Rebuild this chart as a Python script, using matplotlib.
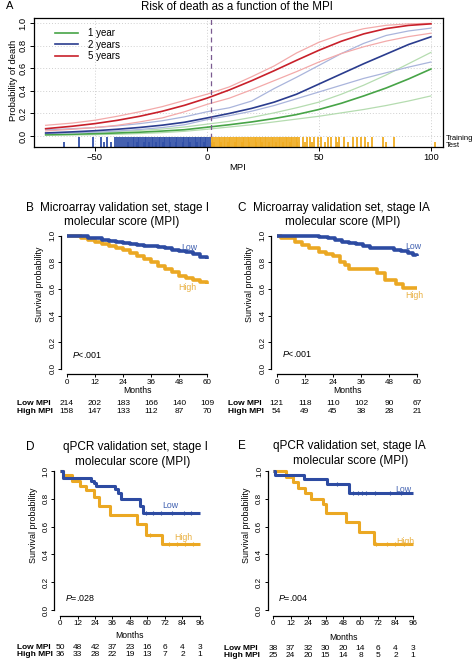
import matplotlib
matplotlib.use('Agg')
import matplotlib.pyplot as plt
import matplotlib.transforms as mtrans
import numpy as np

plt.rcParams['font.family'] = ['Liberation Sans', 'DejaVu Sans']
plt.rcParams['mathtext.fontset'] = 'custom'
plt.rcParams['mathtext.it'] = 'Liberation Sans:italic'
plt.rcParams['mathtext.rm'] = 'Liberation Sans'

W, H = 474, 663

# ---------------- Panel A data ----------------
mpi_grid = [-72, -60, -50, -40, -30, -20, -10, 0, 10, 20, 30, 40, 50, 60, 70, 80, 90, 100]
p5 = [0.065, 0.087, 0.110, 0.139, 0.175, 0.219, 0.272, 0.335, 0.408, 0.490, 0.578, 0.670, 0.759, 0.839, 0.904, 0.951, 0.979, 0.993]
p5_hi = [0.095, 0.115, 0.140, 0.175, 0.215, 0.260, 0.315, 0.370, 0.435, 0.525, 0.620, 0.735, 0.830, 0.900, 0.950, 0.980, 0.993, 0.997]
p5_lo = [0.045, 0.060, 0.075, 0.095, 0.125, 0.160, 0.215, 0.280, 0.335, 0.410, 0.490, 0.570, 0.655, 0.730, 0.790, 0.840, 0.880, 0.910]
p2 = [0.027, 0.037, 0.047, 0.060, 0.076, 0.096, 0.122, 0.160, 0.200, 0.245, 0.300, 0.370, 0.460, 0.550, 0.640, 0.725, 0.810, 0.878]
p2_hi = [0.055, 0.065, 0.075, 0.090, 0.110, 0.135, 0.170, 0.215, 0.250, 0.310, 0.420, 0.520, 0.625, 0.730, 0.820, 0.890, 0.930, 0.955]
p2_lo = [0.022, 0.028, 0.034, 0.045, 0.058, 0.075, 0.100, 0.145, 0.180, 0.220, 0.270, 0.330, 0.390, 0.450, 0.510, 0.560, 0.610, 0.655]
p1 = [0.012, 0.016, 0.021, 0.027, 0.034, 0.044, 0.056, 0.078, 0.100, 0.125, 0.155, 0.190, 0.235, 0.290, 0.355, 0.425, 0.505, 0.593]
p1_hi = [0.025, 0.028, 0.032, 0.040, 0.050, 0.062, 0.080, 0.105, 0.130, 0.165, 0.205, 0.250, 0.300, 0.370, 0.450, 0.540, 0.640, 0.740]
p1_lo = [0.006, 0.009, 0.012, 0.016, 0.022, 0.030, 0.042, 0.060, 0.080, 0.100, 0.125, 0.150, 0.175, 0.205, 0.235, 0.270, 0.310, 0.355]
mpi_cutoff = 2

rug_train = [-57, -51, -47.5, -44.5, -41, -40.2, -39.1, -38.3, -37.4, -36.6, -35.5, -34.8, -33.9,
             -33.1, -32.4, -31.6, -30.8, -30.1, -29.3, -28.5, -27.8, -27.0, -26.2, -25.5, -24.7,
             -23.9, -23.2, -22.4, -21.6, -20.9, -20.1, -19.3, -18.6, -17.8, -17.0, -16.3, -15.5,
             -14.7, -14.0, -13.2, -12.4, -11.7, -10.9, -10.1, -9.4, -8.6, -7.8, -7.1, -6.3, -5.5,
             -4.8, -4.0, -3.2, -2.5, -1.7, -0.9, -0.2, 0.6, 1.3,
             2.1, 2.9, 3.6, 4.4, 5.2, 5.9, 6.7, 7.5, 8.2, 9.0, 9.8, 10.5, 11.3, 12.1, 12.8, 13.6,
             14.4, 15.1, 15.9, 16.7, 17.4, 18.2, 19.0, 19.7, 20.5, 21.3, 22.0, 22.8, 23.6, 24.3,
             25.1, 25.9, 26.6, 27.4, 28.2, 28.9, 29.7, 30.5, 31.2, 32.0, 32.8, 33.5, 34.3, 35.1,
             35.8, 36.6, 37.4, 38.1, 38.9, 39.7, 40.4, 41.2, 43, 44.5, 46, 48, 49.5, 51, 54,
             55.5, 57.5, 59, 61, 65, 67, 69, 70.5, 73.5, 78.6, 83.6]
rug_test = [-64, -46, -43, -35.2, -31.2, -28.1, -25.9, -22.8, -19.7, -16.6, -13.6, -10.5, -7.4,
            -4.4, -1.3, 3.2, 6.3, 9.4, 12.5, 15.5, 18.6, 21.7, 24.7, 27.8, 30.9, 33.9, 37.0,
            40.1, 44, 47, 52.5, 58, 63, 72, 80, 102]

# ---------------- KM data ----------------
B_low_t = [0, 3, 6, 9, 12, 15, 18, 21, 24, 27, 30, 33, 36, 39, 42, 45, 48, 51, 54, 57, 60]
B_low_s = [1.0, 0.997, 0.993, 0.985, 0.978, 0.970, 0.960, 0.950, 0.945, 0.940, 0.930, 0.925,
           0.920, 0.915, 0.905, 0.895, 0.885, 0.875, 0.860, 0.840, 0.825]
B_high_t = [0, 3, 6, 9, 12, 15, 18, 21, 24, 27, 30, 33, 36, 39, 42, 45, 48, 51, 54, 57, 60]
B_high_s = [1.0, 0.993, 0.980, 0.965, 0.950, 0.935, 0.920, 0.905, 0.888, 0.870, 0.850, 0.825,
            0.800, 0.770, 0.750, 0.725, 0.700, 0.680, 0.670, 0.655, 0.640]
C_low_t = [0, 14, 18, 22, 25, 28, 31, 34, 37, 40, 47, 50, 53, 56, 58, 60]
C_low_s = [1.0, 0.995, 0.990, 0.980, 0.965, 0.955, 0.945, 0.935, 0.925, 0.910, 0.905, 0.895,
           0.885, 0.870, 0.855, 0.845]
C_high_t = [0, 2, 8, 11, 14, 18, 21, 24, 27, 29, 31, 43, 46, 51, 54, 60]
C_high_s = [1.0, 0.98, 0.955, 0.93, 0.91, 0.88, 0.865, 0.85, 0.80, 0.78, 0.75, 0.72, 0.665,
            0.64, 0.61, 0.61]
D_low_t = [0, 2, 21, 23, 25, 38, 40, 42, 55, 57, 96]
D_low_s = [1.0, 0.95, 0.93, 0.91, 0.89, 0.87, 0.84, 0.80, 0.75, 0.70, 0.70]
D_high_t = [0, 2, 8, 14, 18, 23, 27, 34, 53, 59, 70, 96]
D_high_s = [1.0, 0.97, 0.93, 0.89, 0.86, 0.81, 0.75, 0.68, 0.62, 0.54, 0.475, 0.475]
E_low_t = [0, 1, 21, 37, 52, 96]
E_low_s = [1.0, 0.97, 0.94, 0.905, 0.845, 0.845]
E_high_t = [0, 9, 14, 17, 22, 26, 34, 36, 50, 59, 69, 96]
E_high_s = [1.0, 0.96, 0.92, 0.88, 0.84, 0.80, 0.76, 0.70, 0.63, 0.56, 0.475, 0.475]
D_low_cens = [59, 64, 69, 77, 85, 90]
D_high_cens = [62, 75, 80, 86, 91]
E_low_cens = [44, 55, 58, 61, 64, 70, 80, 88]
E_high_cens = [71, 78, 84, 90]

B_ticks = [0, 12, 24, 36, 48, 60]
D_ticks = [0, 12, 24, 36, 48, 60, 72, 84, 96]
B_risk_low = [214, 202, 183, 166, 140, 109]
B_risk_high = [158, 147, 133, 112, 87, 70]
C_risk_low = [121, 118, 110, 102, 90, 67]
C_risk_high = [54, 49, 45, 38, 28, 21]
D_risk_low = [50, 48, 42, 37, 23, 16, 6, 4, 3]
D_risk_high = [36, 33, 28, 22, 19, 13, 7, 2, 1]
E_risk_low = [38, 37, 32, 30, 20, 14, 6, 4, 3]
E_risk_high = [25, 24, 20, 15, 14, 8, 5, 2, 1]

# ---------------- colours ----------------
GREEN, GREEN_L = '#47a447', '#b5dcb0'
BLUEA, BLUEA_L = '#2a3c8e', '#aab5dc'
RED, RED_L = '#c8202a', '#f3aaaa'
KM_BLUE, KM_ORANGE = '#2d4ba2', '#eba823'
RUG_BLUE, RUG_ORANGE = '#3150a8', '#f0ad22'
LBL_BLUE, LBL_ORANGE = '#4060b0', '#e9b040'

fig = plt.figure(figsize=(W / 100, H / 100), dpi=100)


def px_axes(l, r, t, b):
    return fig.add_axes([l / W, 1 - b / H, (r - l) / W, (b - t) / H])


def ftext(x, y, s, **kw):
    kw.setdefault('va', 'center')
    fig.text(x / W, 1 - y / H, s, **kw)


# ================= Panel A =================
axA = px_axes(34, 443, 18.3, 147)
axA.set_xlim(-77.2, 105.4)
axA.set_ylim(-0.097, 1.042)
for v in [-50, 0, 50, 100]:
    axA.axvline(v, color='#d0d0d0', lw=0.7, ls=(0, (1, 2)), zorder=0)
for v in [0, 0.2, 0.4, 0.6, 0.8, 1.0]:
    axA.axhline(v, color='#d0d0d0', lw=0.7, ls=(0, (1, 2)), zorder=0)

for lo, hi, mid, c, cl in [(p1_lo, p1_hi, p1, GREEN, GREEN_L),
                           (p2_lo, p2_hi, p2, BLUEA, BLUEA_L),
                           (p5_lo, p5_hi, p5, RED, RED_L)]:
    axA.plot(mpi_grid, lo, color=cl, lw=0.9)
    axA.plot(mpi_grid, hi, color=cl, lw=0.9)
    axA.plot(mpi_grid, mid, color=c, lw=1.2)

axA.axvline(mpi_cutoff, color='#7a5a90', lw=0.9, ls=(0, (4, 3)))

rt = np.array(rug_train)
rs = np.array(rug_test)
axA.vlines(rt, -0.010, -0.097, colors=[RUG_BLUE if v < mpi_cutoff else RUG_ORANGE for v in rt], lw=1.3)
axA.vlines(rs, -0.050, -0.097, colors=[RUG_BLUE if v < mpi_cutoff else RUG_ORANGE for v in rs], lw=1.3)

axA.set_xticks([-50, 0, 50, 100])
axA.set_xticklabels(['\u221250', '0', '50', '100'])
axA.set_yticks([0, 0.2, 0.4, 0.6, 0.8, 1.0])
axA.set_yticklabels(['0.0', '0.2', '0.4', '0.6', '0.8', '1.0'], rotation=90, va='center')
axA.tick_params(labelsize=6.8, length=3, width=0.7, pad=1.5, direction='out')
for s in axA.spines.values():
    s.set_linewidth(0.9)

# legend (manual)
for yy, lab, c in [(33, '1 year', GREEN), (44.5, '2 years', BLUEA), (56, '5 years', RED)]:
    yd = (147 - yy) / (147 - 18.3)
    axA.plot([(55 - 34) / 409, (78 - 34) / 409], [yd, yd], color=c, lw=1.2, transform=axA.transAxes)
    axA.text((88 - 34) / 409, yd, lab, transform=axA.transAxes, fontsize=7, va='center')

ftext(237, 7, 'Risk of death as a function of the MPI', fontsize=8.3, ha='center')
ftext(10, 6, 'A', fontsize=8, ha='center')
ftext(13.5, 80, 'Probability of death', fontsize=6.8, rotation=90, ha='center')
ftext(238, 168, 'MPI', fontsize=6.8, ha='center')
ftext(446, 138.5, 'Training', fontsize=5.5, ha='left')
ftext(446, 145.5, 'Test', fontsize=5.5, ha='left')


# ================= KM panels =================
def step_at(ts, ss, t):
    idx = np.searchsorted(ts, t, side='right') - 1
    return ss[idx]


def km_panel(box, xmax, ticks, low_t, low_s, high_t, high_s, risk_low, risk_high,
             yrisk, ymonths, low_pos, high_pos, ptext, ppos, ylab_x, ylab_y, lab_x,
             low_c=None, high_c=None, lw=2.2):
    ax = px_axes(*box)
    pad = 0.04 * xmax
    ax.set_xlim(-pad, xmax + pad)
    ax.set_ylim(-0.04, 1.04)
    ax.step(high_t, high_s, where='post', color=KM_ORANGE, lw=lw, solid_capstyle='butt')
    ax.step(low_t, low_s, where='post', color=KM_BLUE, lw=lw, solid_capstyle='butt')
    if low_c:
        ax.plot(low_c, [step_at(np.array(low_t), low_s, c) for c in low_c], ls='none',
                marker='|', ms=3, mew=0.8, color=KM_BLUE)
    if high_c:
        ax.plot(high_c, [step_at(np.array(high_t), high_s, c) for c in high_c], ls='none',
                marker='|', ms=3, mew=0.8, color=KM_ORANGE)
    for s in ['top', 'right']:
        ax.spines[s].set_visible(False)
    ax.spines['left'].set_bounds(0, 1)
    ax.spines['bottom'].set_bounds(0, xmax)
    ax.spines['left'].set_linewidth(0.9)
    ax.spines['bottom'].set_linewidth(0.9)
    ax.set_xticks(ticks)
    ax.set_xticklabels([str(t) for t in ticks])
    ax.set_yticks([0, 0.2, 0.4, 0.6, 0.8, 1.0])
    ax.set_yticklabels(['0.0', '0.2', '0.4', '0.6', '0.8', '1.0'], rotation=90, va='center')
    ax.tick_params(labelsize=5.8, length=2.5, width=0.7, pad=0.8, direction='out')
    tr = mtrans.blended_transform_factory(ax.transData, fig.transFigure)
    for t, v in zip(ticks, risk_low):
        ax.text(t, 1 - yrisk[0] / H, str(v), transform=tr, fontsize=6, ha='center', va='center')
    for t, v in zip(ticks, risk_high):
        ax.text(t, 1 - yrisk[1] / H, str(v), transform=tr, fontsize=6, ha='center', va='center')
    ax.text(xmax / 2, 1 - ymonths / H, 'Months', transform=tr, fontsize=6.2, ha='center', va='center')
    ftext(lab_x, yrisk[0], 'Low MPI', fontsize=6, fontweight='bold', ha='left')
    ftext(lab_x, yrisk[1], 'High MPI', fontsize=6, fontweight='bold', ha='left')
    ftext(low_pos[0], low_pos[1], 'Low', fontsize=6.3, color=LBL_BLUE, ha='center')
    ftext(high_pos[0], high_pos[1], 'High', fontsize=6.3, color=LBL_ORANGE, ha='center')
    ftext(ppos[0], ppos[1], ptext, fontsize=6.4, ha='left')
    ftext(ylab_x, ylab_y, 'Survival probability', fontsize=6.4, rotation=90, ha='center')
    return ax


km_panel((61, 213, 230.2, 374.3), 60, B_ticks, B_low_t, B_low_s, B_high_t, B_high_s,
         B_risk_low, B_risk_high, (404, 411.3), 390.8, (189, 247.3), (187, 288),
         r'$P$<.001', (72, 355), 40, 284, 17, lw=2.6)
km_panel((271, 423, 230.2, 374.3), 60, B_ticks, C_low_t, C_low_s, C_high_t, C_high_s,
         C_risk_low, C_risk_high, (404, 411.3), 390.8, (413, 246.7), (414, 295),
         r'$P$<.001', (281.7, 354.3), 250, 284, 228, lw=2.6)
km_panel((54.4, 205.6, 465.4, 615.6), 96, D_ticks, D_low_t, D_low_s, D_high_t, D_high_s,
         D_risk_low, D_risk_high, (647.3, 655), 636, (170, 505.5), (183, 538),
         r'$P$=.028', (65, 598.3), 33, 525, 17, D_low_cens, D_high_cens)
km_panel((267.5, 418.5, 465.4, 615.6), 96, D_ticks, E_low_t, E_low_s, E_high_t, E_high_s,
         E_risk_low, E_risk_high, (648.3, 655.7), 638, (403, 490), (405, 541.7),
         r'$P$=.004', (278, 598.3), 246.7, 525, 224, E_low_cens, E_high_cens)

# titles
ftext(30, 208, 'B', fontsize=8.5, ha='center')
ftext(124, 208, 'Microarray validation set, stage I', fontsize=8.5, ha='center')
ftext(122, 222, 'molecular score (MPI)', fontsize=8.5, ha='center')
ftext(242, 208, 'C', fontsize=8.5, ha='center')
ftext(341, 208, 'Microarray validation set, stage IA', fontsize=8.5, ha='center')
ftext(342.5, 222, 'molecular score (MPI)', fontsize=8.5, ha='center')
ftext(30, 446.7, 'D', fontsize=8.5, ha='center')
ftext(135, 446.7, 'qPCR validation set, stage I', fontsize=8.5, ha='center')
ftext(133, 461.7, 'molecular score (MPI)', fontsize=8.5, ha='center')
ftext(241.7, 446, 'E', fontsize=8.5, ha='center')
ftext(349, 446, 'qPCR validation set, stage IA', fontsize=8.5, ha='center')
ftext(351, 461, 'molecular score (MPI)', fontsize=8.5, ha='center')

fig.savefig('out.png', dpi=100)
